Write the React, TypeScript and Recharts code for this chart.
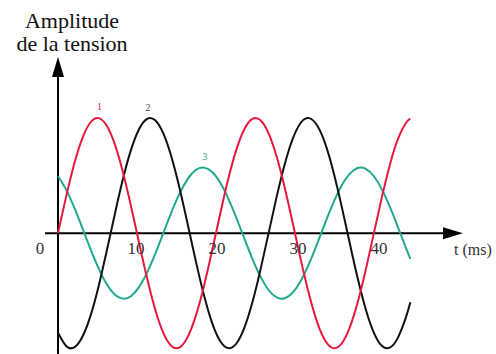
import { LineChart, Line, XAxis, YAxis, ReferenceLine, ReferenceDot, LabelList } from 'recharts';

// time in ms, amplitude in arbitrary units (phases 1 and 2 peak at 1)
const times = [0, 1, 2, 3, 4, 5, 6, 7, 8, 9, 10, 11, 12, 13, 14, 15, 16, 17, 18, 19, 20, 21, 22, 23, 24, 25, 26, 27, 28, 29, 30, 31, 32, 33, 34, 35, 36, 37, 38, 39, 40, 41, 42, 43, 43.5];

const phase1 = [
  0, 0.317, 0.601, 0.823, 0.961, 0.999, 0.935, 0.775, 0.534, 0.239,
  -0.081, -0.392, -0.663, -0.866, -0.98, -0.993, -0.903, -0.721, -0.465, -0.16,
  0.16, 0.465, 0.721, 0.903, 0.993, 0.98, 0.866, 0.663, 0.392, 0.081,
  -0.239, -0.534, -0.775, -0.935, -0.999, -0.961, -0.823, -0.601, -0.317, 0,
  0.317, 0.601, 0.823, 0.961, 0.993,
];

const phase2 = [
  -0.866, -0.98, -0.993, -0.903, -0.721, -0.465, -0.16, 0.16, 0.465, 0.721,
  0.903, 0.993, 0.98, 0.866, 0.663, 0.392, 0.081, -0.239, -0.534, -0.775,
  -0.935, -0.999, -0.961, -0.823, -0.601, -0.317, 0, 0.317, 0.601, 0.823,
  0.961, 0.999, 0.935, 0.775, 0.534, 0.239, -0.081, -0.392, -0.663, -0.866,
  -0.98, -0.993, -0.903, -0.721, -0.601,
];

const phase3 = [
  0.494, 0.378, 0.223, 0.046, -0.136, -0.304, -0.442, -0.533, -0.569, -0.548,
  -0.469, -0.343, -0.181, 0, 0.181, 0.343, 0.469, 0.548, 0.569, 0.533,
  0.442, 0.304, 0.136, -0.046, -0.223, -0.378, -0.494, -0.559, -0.566, -0.515,
  -0.411, -0.265, -0.091, 0.091, 0.265, 0.411, 0.515, 0.566, 0.559, 0.494,
  0.378, 0.223, 0.046, -0.136, -0.223,
];

const xTicks = [0, 10, 20, 30, 40];

const data = times.map((t, i) => ({ t, p1: phase1[i], p2: phase2[i], p3: phase3[i] }));

const RED = '#e8173d';
const BLACK = '#111111';
const GREEN = '#1fa98b';
const SERIF = "'Liberation Serif', serif";

// small number drawn above one peak of a curve
const peakTag = (idx: number, text: string, color: string) => (props: any) => {
  if (props.index !== idx) return null;
  return (
    <text x={props.x + 1} y={props.y - 8} fill={color} fontSize={10} fontFamily={SERIF} textAnchor="middle">
      {text}
    </text>
  );
};

const VerticalAxis = (props: any) => {
  const { x1, y1, y2 } = props;
  const top = Math.min(y1, y2);
  const bottom = Math.max(y1, y2);
  return (
    <g>
      <line x1={x1} y1={top + 10} x2={x1} y2={bottom} stroke="#000" strokeWidth={2} />
      <polygon points={`${x1},${top} ${x1 - 6},${top + 20} ${x1 + 6},${top + 20}`} fill="#000" />
    </g>
  );
};

const HorizontalAxis = (props: any) => {
  const { y1, x1, x2 } = props;
  const left = Math.min(x1, x2);
  const right = Math.max(x1, x2);
  return (
    <g>
      <line x1={left} y1={y1} x2={right - 10} y2={y1} stroke="#000" strokeWidth={2} />
      <polygon points={`${right},${y1} ${right - 20},${y1 - 6} ${right - 20},${y1 + 6}`} fill="#000" />
    </g>
  );
};

const tickLabel = (value: number) => (props: any) => {
  const vb = props.viewBox;
  const dx = value === 0 ? -18 : -3;
  return (
    <text x={vb.x + dx} y={vb.y + 21} fill="#333" fontSize={17} fontFamily={SERIF} textAnchor="middle">
      {value}
    </text>
  );
};

const unitLabel = (props: any) => {
  const vb = props.viewBox;
  return (
    <text x={vb.x + vb.width - 9} y={vb.y + 22} fill="#333" fontSize={16} fontFamily={SERIF}>
      t (ms)
    </text>
  );
};

export default function App() {
  return (
    <div style={{ position: 'absolute', left: 0, top: 0, width: 496, height: 354, background: '#fff' }}>
      <div
        style={{
          position: 'absolute',
          left: 0,
          top: 9,
          width: 144,
          textAlign: 'center',
          fontFamily: SERIF,
          fontSize: 22,
          lineHeight: '23px',
          color: '#111',
          whiteSpace: 'nowrap',
        }}
      >
        Amplitude
        <br />
        de la tension
      </div>
      <LineChart width={496} height={354} data={data} margin={{ top: 57, right: 33, bottom: 0, left: 58 }}>
        <XAxis dataKey="t" type="number" domain={[0, 50]} hide />
        <YAxis type="number" domain={[-1.05, 1.53]} hide />
        <ReferenceLine x={0} shape={VerticalAxis} />
        <ReferenceLine
          segment={[{ x: -1.6, y: 0 }, { x: 50, y: 0 }]}
          ifOverflow="visible"
          shape={HorizontalAxis}
          label={unitLabel}
        />
        {xTicks.map((v) => (
          <ReferenceDot key={v} x={v} y={0} r={0} fill="none" stroke="none" label={tickLabel(v)} />
        ))}
        <Line type="natural" dataKey="p3" stroke={GREEN} strokeWidth={2} dot={false} isAnimationActive={false}>
          <LabelList dataKey="p3" content={peakTag(18, '3', GREEN)} />
        </Line>
        <Line type="natural" dataKey="p2" stroke={BLACK} strokeWidth={2} dot={false} isAnimationActive={false}>
          <LabelList dataKey="p2" content={peakTag(11, '2', '#444')} />
        </Line>
        <Line type="natural" dataKey="p1" stroke={RED} strokeWidth={2} dot={false} isAnimationActive={false}>
          <LabelList dataKey="p1" content={peakTag(5, '1', RED)} />
        </Line>
      </LineChart>
    </div>
  );
}
